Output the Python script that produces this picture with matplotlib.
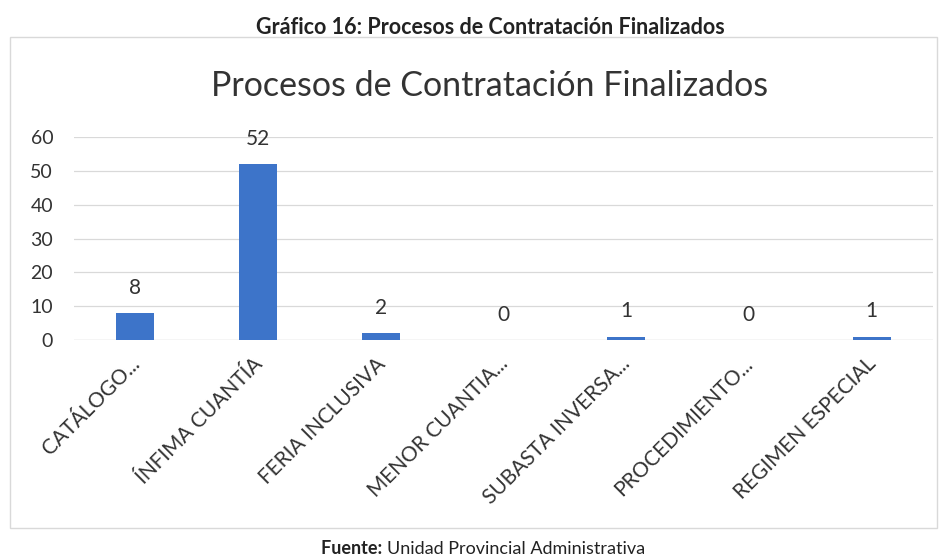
import numpy as np
import matplotlib.pyplot as plt
import matplotlib.transforms as mtransforms
from matplotlib.patches import Rectangle

categorias = ['CATÁLOGO...', 'ÍNFIMA CUANTÍA', 'FERIA INCLUSIVA', 'MENOR CUANTIA...',
              'SUBASTA INVERSA...', 'PROCEDIMIENTO...', 'REGIMEN ESPECIAL']
procesos = [8, 52, 2, 0, 1, 0, 1]
yticks = [0, 10, 20, 30, 40, 50, 60]

plt.rcParams['font.family'] = ['Lato', 'DejaVu Sans']

fig = plt.figure(figsize=(9.49, 5.6), dpi=100)
fig.patch.set_facecolor('white')

# marco gris del grafico
fig.patches.append(Rectangle((10/949, 1 - 528/560), 927/949, 491/560,
                             transform=fig.transFigure, fill=False,
                             edgecolor='#d9d9d9', linewidth=1))

ax = fig.add_axes([74/949, 1 - 340/560, 859/949, 203/560])
x = np.arange(len(categorias))
bars = ax.bar(x, procesos, width=0.31, color='#3d74c9', zorder=3)
ax.set_xlim(-0.5, len(categorias) - 0.5)
ax.set_ylim(0, 60)
ax.set_yticks(yticks)
ax.grid(axis='y', color='#d9d9d9', linewidth=0.9, zorder=0)
for s in ax.spines.values():
    s.set_visible(False)
ax.axhline(0, color='#d9d9d9', linewidth=0.9, zorder=2)
ax.tick_params(axis='both', length=0, labelsize=14, colors='#333333')
ax.tick_params(axis='y', pad=15)
ax.set_xticks(x)
ax.set_xticklabels(categorias, rotation=45, ha='right', va='top',
                   rotation_mode='anchor', fontsize=15)
offset = mtransforms.ScaledTranslation(-0.06, -0.09, fig.dpi_scale_trans)
for lbl in ax.get_xticklabels():
    lbl.set_transform(lbl.get_transform() + offset)

for xi, v in zip(x, procesos):
    ax.text(xi, v + 4.5, str(v), ha='center', va='bottom', fontsize=15, color='#333333')

fig.text(490/949, 1 - 27/560, 'Gráfico 16: Procesos de Contratación Finalizados',
         ha='center', va='center', fontsize=15.5, fontweight='bold', color='#222222')
fig.text(490/949, 1 - 86/560, 'Procesos de Contratación Finalizados',
         ha='center', va='center', fontsize=24.5, color='#333333')
fig.text(387/949, 1 - 549/560, 'Fuente: ', ha='right', va='center',
         fontsize=13, fontweight='bold', color='#222222')
fig.text(387/949, 1 - 549/560, 'Unidad Provincial Administrativa', ha='left', va='center',
         fontsize=13, color='#222222')

fig.savefig('out.png', dpi=100)
